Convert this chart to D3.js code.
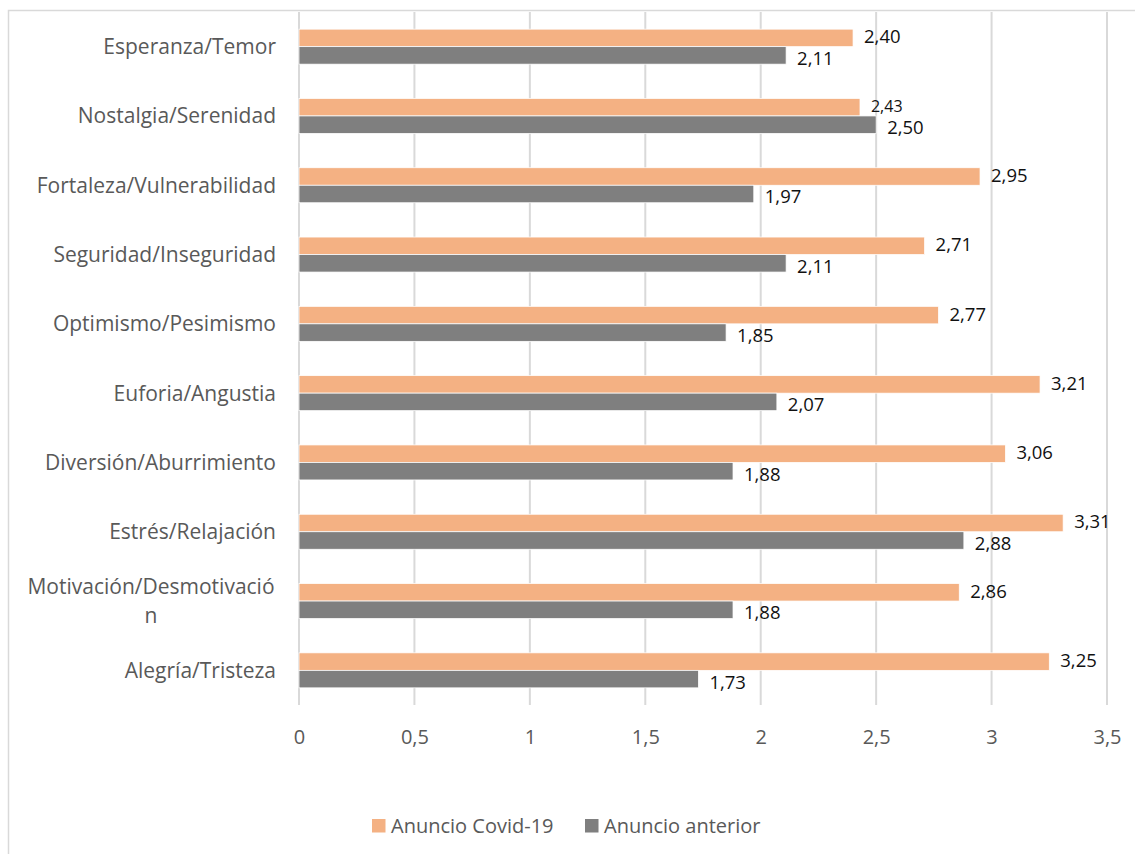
<!DOCTYPE html>
<html lang="es">
<head>
<meta charset="utf-8">
<title>Anuncio Covid-19 vs Anuncio anterior</title>
<script src="https://cdn.jsdelivr.net/npm/d3@7"></script>
<style>
  html, body { margin: 0; padding: 0; background: #ffffff; }
  svg { display: block; font-family: "Open Sans", Lato, sans-serif; }
</style>
</head>
<body>
<svg id="chart" width="1135" height="854"></svg>
<script>
// Emotion pairs, listed top to bottom
const categories = [
  "Esperanza/Temor",
  "Nostalgia/Serenidad",
  "Fortaleza/Vulnerabilidad",
  "Seguridad/Inseguridad",
  "Optimismo/Pesimismo",
  "Euforia/Angustia",
  "Diversión/Aburrimiento",
  "Estrés/Relajación",
  "Motivación/Desmotivación",
  "Alegría/Tristeza"
];
const seriesNames = ["Anuncio Covid-19", "Anuncio anterior"];
const covidValues    = [2.40, 2.43, 2.95, 2.71, 2.77, 3.21, 3.06, 3.31, 2.86, 3.25];
const anteriorValues = [2.11, 2.50, 1.97, 2.11, 1.85, 2.07, 1.88, 2.88, 1.88, 1.73];
const xTicks = [0, 0.5, 1, 1.5, 2, 2.5, 3, 3.5];

const colors = { "Anuncio Covid-19": "#F4B183", "Anuncio anterior": "#7F7F7F" };

const svg = d3.select("#chart");
const fmt = v => d3.format(".2f")(v).replace(".", ",");
const tickFmt = v => String(v).replace(".", ",");

// Chart area frame
svg.append("path")
  .attr("d", "M8.5,854 V10.5 H1135")
  .attr("fill", "none")
  .attr("stroke", "#D9D9D9")
  .attr("stroke-width", 1.5);

const plot = { left: 299, right: 1107, top: 12, bottom: 705 };

const x = d3.scaleLinear().domain([0, 3.5]).range([plot.left, plot.right]);
const y = d3.scaleBand().domain(categories)
  .range([plot.top, plot.bottom])
  .paddingInner(0.495).paddingOuter(0.2475);
const ySub = d3.scaleBand().domain(seriesNames).range([0, y.bandwidth()]);

// Vertical gridlines
svg.append("g").selectAll("line").data(xTicks).join("line")
  .attr("x1", d => x(d)).attr("x2", d => x(d))
  .attr("y1", plot.top).attr("y2", plot.bottom)
  .attr("stroke", "#D9D9D9").attr("stroke-width", 2);

// X axis tick labels
const xAxis = d3.axisBottom(x).tickValues(xTicks).tickFormat(tickFmt).tickSize(0).tickPadding(0);
const gx = svg.append("g").attr("transform", `translate(0,${plot.bottom})`).call(xAxis);
gx.select(".domain").remove();
gx.selectAll("text")
  .attr("y", 32).attr("dy", "0.35em")
  .attr("fill", "#595959").style("font-size", "20px")
  .style("font-family", "'Open Sans', Lato, sans-serif");

// Category labels (wrapped by character when too wide)
const labelRight = 276, labelMax = 252;
const gy = svg.append("g");
categories.forEach(cat => {
  const t = gy.append("text")
    .attr("fill", "#595959").style("font-size", "21px")
    .attr("text-anchor", "end");
  const tmp = t.append("tspan").text(cat);
  let lines = [cat];
  if (tmp.node().getComputedTextLength() > labelMax) {
    let cut = cat.length;
    while (cut > 1) {
      tmp.text(cat.slice(0, cut));
      if (tmp.node().getComputedTextLength() <= labelMax) break;
      cut--;
    }
    lines = [cat.slice(0, cut), cat.slice(cut)];
  }
  tmp.remove();
  const cy = y(cat) + y.bandwidth() / 2;
  const lh = 29;
  if (lines.length === 1) {
    t.append("tspan").attr("x", labelRight).attr("y", cy).attr("dy", "0.35em").text(lines[0]);
  } else {
    const mid = (labelRight - labelMax / 2) + 1;
    t.attr("text-anchor", "middle");
    lines.forEach((ln, i) => {
      t.append("tspan").attr("x", mid)
        .attr("y", cy + (i - (lines.length - 1) / 2) * lh)
        .attr("dy", "0.35em").text(ln);
    });
  }
});

// Bars
const rows = categories.map((c, i) => ({
  cat: c,
  vals: [
    { s: seriesNames[0], v: covidValues[i] },
    { s: seriesNames[1], v: anteriorValues[i] }
  ]
}));

const groups = svg.append("g").selectAll("g").data(rows).join("g")
  .attr("transform", d => `translate(0,${y(d.cat)})`);

groups.selectAll("rect").data(d => d.vals).join("rect")
  .attr("x", x(0))
  .attr("y", d => ySub(d.s))
  .attr("width", d => x(d.v) - x(0))
  .attr("height", ySub.bandwidth())
  .attr("fill", d => colors[d.s])
  .attr("stroke", "#ffffff").attr("stroke-width", 0.75);

// Value labels at the bar ends
groups.selectAll("text").data(d => d.vals.map(v => ({ ...v, cat: d.cat }))).join("text")
  .attr("x", d => x(d.v) + 11)
  .attr("y", d => ySub(d.s) + ySub.bandwidth() / 2 + (d.s === seriesNames[1] ? 3 : -1))
  .attr("dy", "0.35em")
  .attr("fill", "#111111")
  .style("font-size", d => (d.cat === "Nostalgia/Serenidad" && d.s === seriesNames[0]) ? "16px" : "18.5px")
  .text(d => fmt(d.v));

// Legend
const legend = svg.append("g").attr("transform", "translate(372,826)");
const legendItems = [{ s: seriesNames[0], dx: 0 }, { s: seriesNames[1], dx: 213 }];
const li = legend.selectAll("g").data(legendItems).join("g")
  .attr("transform", d => `translate(${d.dx},0)`);
li.append("rect").attr("x", 0).attr("y", -7).attr("width", 13.5).attr("height", 13.5)
  .attr("fill", d => colors[d.s]);
li.append("text").attr("x", 19).attr("y", 0).attr("dy", "0.35em")
  .attr("fill", "#595959").style("font-size", "20px")
  .text(d => d.s);
</script>
</body>
</html>
